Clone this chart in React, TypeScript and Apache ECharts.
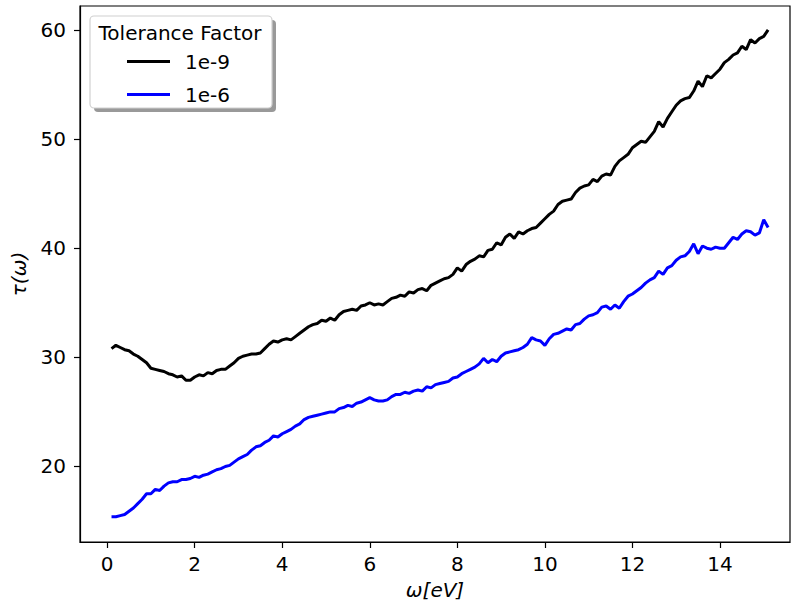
import React, { useEffect, useRef } from "react";
import * as echarts from "echarts";

const omega: number[] = [
  0.1, 0.2, 0.3, 0.4, 0.5, 0.6, 0.7, 0.8, 0.9, 1.0, 1.1, 1.2, 1.3, 1.4, 1.5, 1.6, 1.7, 1.8, 1.9, 2.0,
  2.1, 2.2, 2.3, 2.4, 2.5, 2.6, 2.7, 2.8, 2.9, 3.0, 3.1, 3.2, 3.3, 3.4, 3.5, 3.6, 3.7, 3.8, 3.9, 4.0,
  4.1, 4.2, 4.3, 4.4, 4.5, 4.6, 4.7, 4.8, 4.9, 5.0, 5.1, 5.2, 5.3, 5.4, 5.5, 5.6, 5.7, 5.8, 5.9, 6.0,
  6.1, 6.2, 6.3, 6.4, 6.5, 6.6, 6.7, 6.8, 6.9, 7.0, 7.1, 7.2, 7.3, 7.4, 7.5, 7.6, 7.7, 7.8, 7.9, 8.0,
  8.1, 8.2, 8.3, 8.4, 8.5, 8.6, 8.7, 8.8, 8.9, 9.0, 9.1, 9.2, 9.3, 9.4, 9.5, 9.6, 9.7, 9.8, 9.9, 10.0,
  10.1, 10.2, 10.3, 10.4, 10.5, 10.6, 10.7, 10.8, 10.9, 11.0, 11.1, 11.2, 11.3, 11.4, 11.5, 11.6, 11.7, 11.8, 11.9, 12.0,
  12.1, 12.2, 12.3, 12.4, 12.5, 12.6, 12.7, 12.8, 12.9, 13.0, 13.1, 13.2, 13.3, 13.4, 13.5, 13.6, 13.7, 13.8, 13.9, 14.0,
  14.1, 14.2, 14.3, 14.4, 14.5, 14.6, 14.7, 14.8, 14.9, 15.0, 15.1,
];

const tau1e9: number[] = [
  30.8, 31.1, 30.9, 30.7, 30.6, 30.3, 30.1, 29.8, 29.5, 29.0, 28.9, 28.8, 28.7, 28.5, 28.4, 28.2, 28.3, 27.9, 27.9, 28.2,
  28.4, 28.3, 28.6, 28.5, 28.8, 28.9, 28.9, 29.2, 29.5, 29.9, 30.1, 30.2, 30.3, 30.3, 30.4, 30.8, 31.2, 31.5, 31.4, 31.6,
  31.7, 31.6, 31.9, 32.2, 32.5, 32.8, 33.0, 33.1, 33.4, 33.3, 33.6, 33.4, 33.9, 34.2, 34.3, 34.4, 34.3, 34.7, 34.8, 35.0,
  34.8, 34.9, 34.8, 35.1, 35.4, 35.5, 35.7, 35.6, 36.0, 35.9, 36.2, 36.3, 36.1, 36.6, 36.8, 37.0, 37.2, 37.3, 37.6, 38.2,
  37.9, 38.5, 38.8, 39.0, 39.3, 39.2, 39.8, 39.9, 40.5, 40.3, 41.0, 41.3, 40.9, 41.5, 41.3, 41.6, 41.8, 41.9, 42.3, 42.7,
  43.1, 43.4, 44.0, 44.3, 44.4, 44.5, 45.1, 45.5, 45.7, 45.8, 46.3, 46.1, 46.6, 46.8, 46.7, 47.5, 48.0, 48.3, 48.6, 49.2,
  49.5, 49.8, 49.7, 50.2, 50.7, 51.6, 51.1, 51.9, 52.5, 53.1, 53.5, 53.7, 53.8, 54.4, 55.3, 54.8, 55.8, 55.6, 56.0, 56.4,
  57.0, 57.3, 57.7, 57.9, 58.5, 58.2, 59.1, 58.8, 59.2, 59.4, 60.0,
];

const tau1e6: number[] = [
  15.4, 15.4, 15.5, 15.6, 15.9, 16.2, 16.6, 17.0, 17.5, 17.5, 17.9, 17.8, 18.2, 18.5, 18.6, 18.6, 18.8, 18.8, 18.9, 19.1,
  19.0, 19.2, 19.3, 19.5, 19.7, 19.8, 20.0, 20.1, 20.4, 20.7, 20.9, 21.1, 21.5, 21.8, 21.9, 22.2, 22.4, 22.8, 22.7, 23.0,
  23.2, 23.4, 23.7, 23.9, 24.3, 24.5, 24.6, 24.7, 24.8, 24.9, 25.0, 25.0, 25.3, 25.4, 25.6, 25.5, 25.8, 25.9, 26.1, 26.3,
  26.1, 26.0, 26.0, 26.1, 26.4, 26.6, 26.6, 26.8, 26.7, 26.9, 27.0, 26.9, 27.3, 27.2, 27.5, 27.6, 27.7, 27.8, 28.1, 28.2,
  28.5, 28.7, 28.9, 29.1, 29.4, 29.9, 29.5, 29.8, 29.6, 30.1, 30.4, 30.5, 30.6, 30.7, 30.9, 31.2, 31.8, 31.6, 31.5, 31.1,
  31.7, 32.1, 32.2, 32.4, 32.6, 32.5, 33.0, 33.1, 33.5, 33.8, 33.9, 34.1, 34.6, 34.7, 34.4, 34.8, 34.5, 35.1, 35.6, 35.8,
  36.1, 36.4, 36.8, 37.1, 37.3, 37.9, 37.6, 38.2, 38.4, 38.9, 39.2, 39.3, 39.7, 40.4, 39.5, 40.2, 40.0, 39.9, 40.1, 40.0,
  40.0, 40.5, 41.0, 40.8, 41.3, 41.6, 41.5, 41.2, 41.4, 42.6, 41.9,
];

const xTicks: number[] = [0, 2, 4, 6, 8, 10, 12, 14];
const yTicks: number[] = [20, 30, 40, 50, 60];
const seriesNames: string[] = ["1e-9", "1e-6"];
const legendTitle = "Tolerance Factor";

const FONT = "DejaVu Sans";
const FS = 20;

export default function App() {
  const ref = useRef<HTMLDivElement>(null);
  useEffect(() => {
    if (!ref.current) return;
    const chart = echarts.init(ref.current, undefined, { renderer: "svg" });
    const pair = (ys: number[]) => omega.map((x, i) => [x, ys[i]]);
    chart.setOption({
      animation: false,
      backgroundColor: "#ffffff",
      textStyle: { fontFamily: FONT },
      grid: {
        left: 80,
        right: 2,
        top: 6,
        bottom: 56,
        show: true,
        borderColor: "#000",
        borderWidth: 1.2,
        backgroundColor: "transparent",
      },
      xAxis: {
        type: "value",
        min: -0.62,
        max: 15.6,
        name: "ω[eV]",
        nameLocation: "middle",
        nameGap: 38,
        nameTextStyle: { fontFamily: FONT, fontSize: FS, fontStyle: "italic", color: "#000" },
        axisLine: { show: true, onZero: false, lineStyle: { color: "#000", width: 1.2 } },
        axisTick: { show: true, length: 6, customValues: xTicks, lineStyle: { color: "#000", width: 1.2 } },
        axisLabel: { customValues: xTicks, margin: 12, fontFamily: FONT, fontSize: FS, color: "#000" },
        splitLine: { show: false },
      },
      yAxis: {
        type: "value",
        min: 13.08,
        max: 62.19,
        name: "τ(ω)",
        nameLocation: "middle",
        nameRotate: 90,
        nameGap: 51,
        nameTextStyle: { fontFamily: FONT, fontSize: FS, fontStyle: "italic", color: "#000" },
        axisLine: { show: true, onZero: false, lineStyle: { color: "#000", width: 1.2 } },
        axisTick: { show: true, length: 6, customValues: yTicks, lineStyle: { color: "#000", width: 1.2 } },
        axisLabel: { customValues: yTicks, margin: 14, fontFamily: FONT, fontSize: FS, color: "#000" },
        splitLine: { show: false },
      },
      legend: {
        orient: "vertical",
        left: 122,
        top: 46,
        icon: "rect",
        itemWidth: 43,
        itemHeight: 3,
        itemGap: 12,
        data: seriesNames,
        textStyle: { fontFamily: FONT, fontSize: FS, color: "#000", padding: [0, 0, 0, 10], lineHeight: 21 },
        z: 10,
      },
      graphic: [
        {
          type: "rect",
          shape: { x: 94, y: 20, width: 182, height: 92, r: 4 },
          style: { fill: "#999999" },
          z: 5,
        },
        {
          type: "rect",
          shape: { x: 90, y: 16, width: 182, height: 92, r: 4 },
          style: { fill: "#ffffff", stroke: "#d0d0d0", lineWidth: 1.2 },
          z: 6,
        },
        {
          type: "text",
          x: 180,
          y: 33,
          style: {
            text: legendTitle,
            fontFamily: FONT,
            fontSize: FS,
            fill: "#000",
            align: "center",
            verticalAlign: "middle",
          },
          z: 7,
        },
      ],
      series: [
        {
          name: seriesNames[0],
          type: "line",
          data: pair(tau1e9),
          symbol: "none",
          showSymbol: false,
          lineStyle: { color: "#000000", width: 3 },
          itemStyle: { color: "#000000" },
        },
        {
          name: seriesNames[1],
          type: "line",
          data: pair(tau1e6),
          symbol: "none",
          showSymbol: false,
          lineStyle: { color: "#0000ff", width: 3 },
          itemStyle: { color: "#0000ff" },
        },
      ],
    });
    return () => chart.dispose();
  }, []);
  return (
    <div
      ref={ref}
      style={{ position: "fixed", left: 0, top: 0, width: 792, height: 605, background: "#fff" }}
    />
  );
}
